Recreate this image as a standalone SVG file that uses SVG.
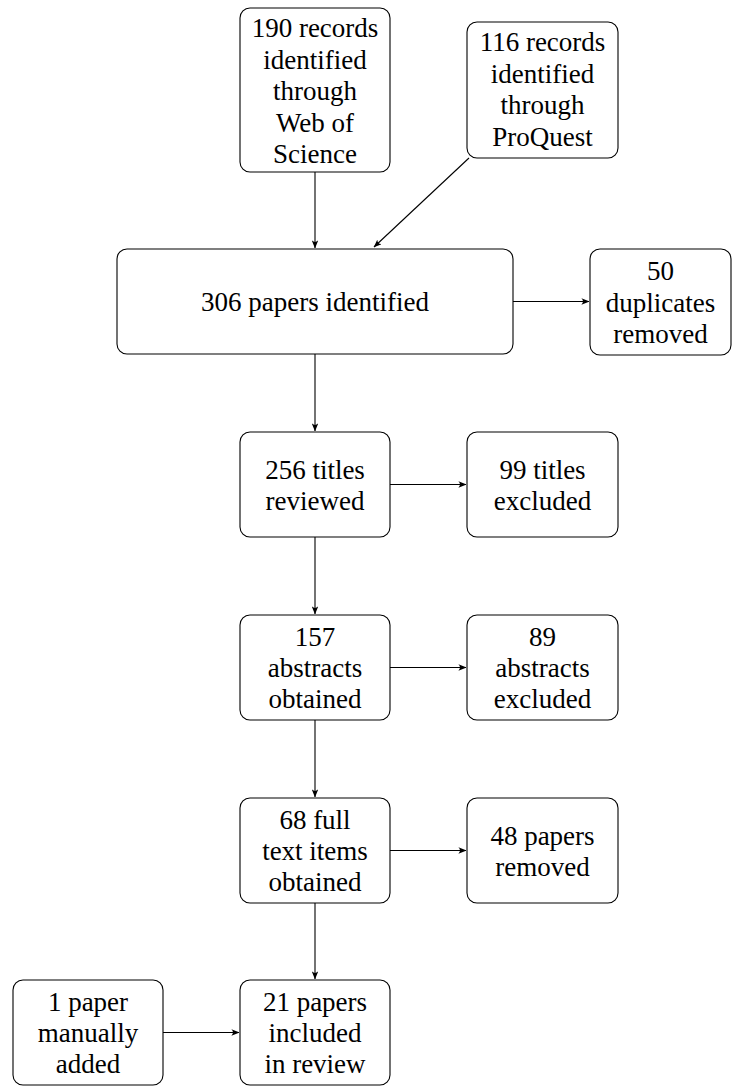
<svg xmlns="http://www.w3.org/2000/svg" width="732" height="1086" viewBox="0 0 732 1086">
<style>
  rect.n { fill: #fff; stroke: #000; stroke-width: 1.1; }
  .c path { fill: none; stroke: #000; stroke-width: 1.1; marker-end: url(#ah); }
</style>
<defs>
  <marker id="ah" viewBox="0 0 10 8" refX="9.5" refY="4" markerWidth="8" markerHeight="6.4" markerUnits="userSpaceOnUse" orient="auto">
    <path d="M0,0 Q4,4 0,8 L10,4 Z" fill="#000"/>
  </marker>
</defs>
<rect width="732" height="1086" fill="#fff"/>
<g class="c" id="connectors">
  <path d="M315,172 V248"/>
  <path d="M469,158 L374,247"/>
  <path d="M513,301.5 H589"/>
  <path d="M315,354 V431"/>
  <path d="M390,484.5 H466"/>
  <path d="M315,537 V614"/>
  <path d="M390,667.5 H466"/>
  <path d="M315,720 V797"/>
  <path d="M390,850.5 H466"/>
  <path d="M315,903 V979"/>
  <path d="M163,1032.5 H239"/>
</g>
<g id="wos"><rect class="n" x="240" y="8" width="150" height="164" rx="10"/>
  <text x="315" y="37" font-family="Liberation Serif" font-size="27" text-anchor="middle">190 records</text>
  <text x="315" y="68.5" font-family="Liberation Serif" font-size="27" text-anchor="middle">identified</text>
  <text x="315" y="100" font-family="Liberation Serif" font-size="27" text-anchor="middle">through</text>
  <text x="315" y="131.5" font-family="Liberation Serif" font-size="27" text-anchor="middle">Web of</text>
  <text x="315" y="163" font-family="Liberation Serif" font-size="27" text-anchor="middle">Science</text></g>
<g id="proquest"><rect class="n" x="467" y="22" width="151" height="136" rx="10"/>
  <text x="542.5" y="51" font-family="Liberation Serif" font-size="27" text-anchor="middle">116 records</text>
  <text x="542.5" y="82.5" font-family="Liberation Serif" font-size="27" text-anchor="middle">identified</text>
  <text x="542.5" y="114" font-family="Liberation Serif" font-size="27" text-anchor="middle">through</text>
  <text x="542.5" y="145.5" font-family="Liberation Serif" font-size="27" text-anchor="middle">ProQuest</text></g>
<g id="identified"><rect class="n" x="117" y="249" width="396" height="105" rx="10"/>
  <text x="315" y="311" font-family="Liberation Serif" font-size="27" text-anchor="middle">306 papers identified</text></g>
<g id="duplicates"><rect class="n" x="590" y="249" width="141" height="106" rx="10"/>
  <text x="660.5" y="280" font-family="Liberation Serif" font-size="27" text-anchor="middle">50</text>
  <text x="660.5" y="311.5" font-family="Liberation Serif" font-size="27" text-anchor="middle">duplicates</text>
  <text x="660.5" y="343" font-family="Liberation Serif" font-size="27" text-anchor="middle">removed</text></g>
<g id="titles"><rect class="n" x="240" y="432" width="150" height="105" rx="10"/>
  <text x="315" y="479" font-family="Liberation Serif" font-size="27" text-anchor="middle">256 titles</text>
  <text x="315" y="510" font-family="Liberation Serif" font-size="27" text-anchor="middle">reviewed</text></g>
<g id="titles-excl"><rect class="n" x="467" y="432" width="151" height="105" rx="10"/>
  <text x="542.5" y="479" font-family="Liberation Serif" font-size="27" text-anchor="middle">99 titles</text>
  <text x="542.5" y="510" font-family="Liberation Serif" font-size="27" text-anchor="middle">excluded</text></g>
<g id="abstracts"><rect class="n" x="240" y="615" width="150" height="105" rx="10"/>
  <text x="315" y="646" font-family="Liberation Serif" font-size="27" text-anchor="middle">157</text>
  <text x="315" y="677" font-family="Liberation Serif" font-size="27" text-anchor="middle">abstracts</text>
  <text x="315" y="708" font-family="Liberation Serif" font-size="27" text-anchor="middle">obtained</text></g>
<g id="abstracts-excl"><rect class="n" x="467" y="615" width="151" height="105" rx="10"/>
  <text x="542.5" y="646" font-family="Liberation Serif" font-size="27" text-anchor="middle">89</text>
  <text x="542.5" y="677" font-family="Liberation Serif" font-size="27" text-anchor="middle">abstracts</text>
  <text x="542.5" y="708" font-family="Liberation Serif" font-size="27" text-anchor="middle">excluded</text></g>
<g id="fulltext"><rect class="n" x="240" y="798" width="150" height="105" rx="10"/>
  <text x="315" y="829" font-family="Liberation Serif" font-size="27" text-anchor="middle">68 full</text>
  <text x="315" y="860" font-family="Liberation Serif" font-size="27" text-anchor="middle">text items</text>
  <text x="315" y="891" font-family="Liberation Serif" font-size="27" text-anchor="middle">obtained</text></g>
<g id="removed"><rect class="n" x="467" y="798" width="151" height="105" rx="10"/>
  <text x="542.5" y="845" font-family="Liberation Serif" font-size="27" text-anchor="middle">48 papers</text>
  <text x="542.5" y="876" font-family="Liberation Serif" font-size="27" text-anchor="middle">removed</text></g>
<g id="included"><rect class="n" x="240" y="980" width="150" height="105" rx="10"/>
  <text x="315" y="1011" font-family="Liberation Serif" font-size="27" text-anchor="middle">21 papers</text>
  <text x="315" y="1042" font-family="Liberation Serif" font-size="27" text-anchor="middle">included</text>
  <text x="315" y="1073" font-family="Liberation Serif" font-size="27" text-anchor="middle">in review</text></g>
<g id="manual"><rect class="n" x="13" y="980" width="150" height="105" rx="10"/>
  <text x="88" y="1011" font-family="Liberation Serif" font-size="27" text-anchor="middle">1 paper</text>
  <text x="88" y="1042" font-family="Liberation Serif" font-size="27" text-anchor="middle">manually</text>
  <text x="88" y="1073" font-family="Liberation Serif" font-size="27" text-anchor="middle">added</text></g>
</svg>
